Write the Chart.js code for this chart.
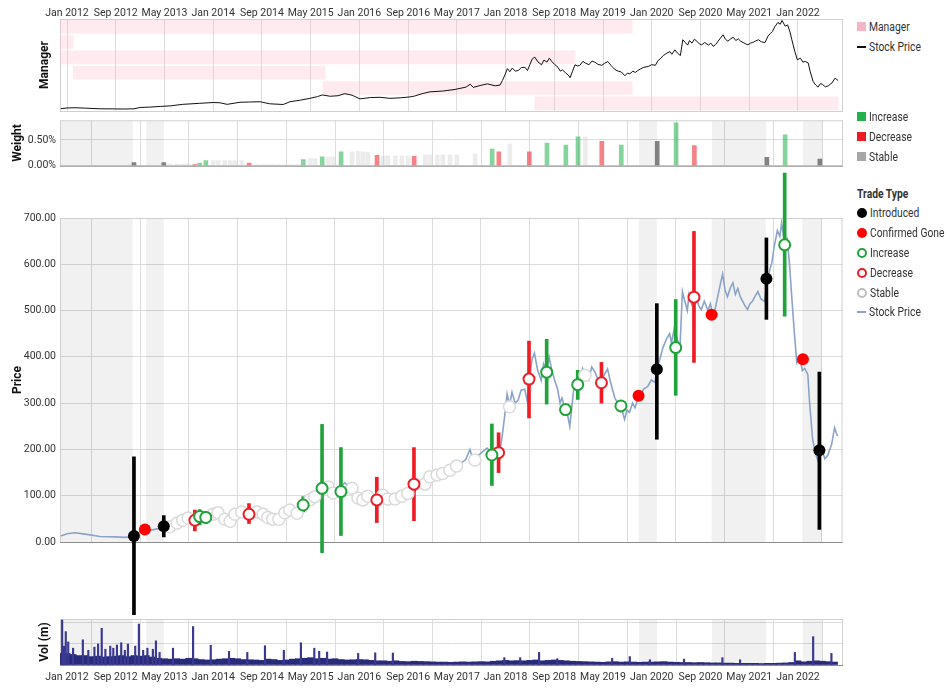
<!DOCTYPE html>
<html>
<head>
<meta charset="utf-8">
<script src="https://cdn.jsdelivr.net/npm/chart.js@4.4.0/dist/chart.umd.min.js"></script>
<style>
  body { margin: 0; background: #fff; }
  #wrap { position: relative; width: 950px; height: 692px; font-family: Roboto, 'Liberation Sans', sans-serif; color: #333; }
  #wrap canvas { position: absolute; left: 0; }
  .lg { position: absolute; left: 857px; font-size: 12px; line-height: 16px; height: 16px; white-space: nowrap; }
  .lg span { display: inline-block; transform: scaleX(0.86); transform-origin: left center; }
  .lg i { display: inline-block; vertical-align: middle; margin-right: 3px; position: relative; top: -1px; }
  .sq { width: 9px; height: 9px; }
  .ln { width: 9px; height: 2px; }
  .dot { width: 10px; height: 10px; border-radius: 50%; box-sizing: border-box; }
  .ttl { font-weight: bold; }
</style>
</head>
<body>
<div id="wrap">
  <canvas id="mgr"></canvas>
  <canvas id="wgt"></canvas>
  <canvas id="main"></canvas>
  <canvas id="vol"></canvas>

  <div class="lg" style="top:19px"><i class="sq" style="background:#f7b6c8"></i><span>Manager</span></div>
  <div class="lg" style="top:39px"><i class="ln" style="background:#111"></i><span>Stock Price</span></div>

  <div class="lg" style="top:109px"><i class="sq" style="background:#22b14c"></i><span>Increase</span></div>
  <div class="lg" style="top:129px"><i class="sq" style="background:#ed1c24"></i><span>Decrease</span></div>
  <div class="lg" style="top:149px"><i class="sq" style="background:#a6a6a6"></i><span>Stable</span></div>

  <div class="lg ttl" style="top:186px"><span>Trade Type</span></div>
  <div class="lg" style="top:205px"><i class="dot" style="background:#000"></i><span>Introduced</span></div>
  <div class="lg" style="top:225px"><i class="dot" style="background:#f00"></i><span>Confirmed Gone</span></div>
  <div class="lg" style="top:245px"><i class="dot" style="border:2.5px solid #1fa33a"></i><span>Increase</span></div>
  <div class="lg" style="top:265px"><i class="dot" style="border:2.5px solid #ee1c25"></i><span>Decrease</span></div>
  <div class="lg" style="top:285px"><i class="dot" style="border:2.5px solid #bdbdbd"></i><span>Stable</span></div>
  <div class="lg" style="top:304px"><i class="ln" style="background:#8aa4c8"></i><span>Stock Price</span></div>
</div>

<script>
// x axis unit: months since Jan 2012
const tickMonths = [0, 8, 16, 24, 32, 40, 48, 56, 64, 72, 80, 88, 96, 104, 112, 120];
const tickLabels = ['Jan 2012', 'Sep 2012', 'May 2013', 'Jan 2014', 'Sep 2014', 'May 2015', 'Jan 2016', 'Sep 2016',
                    'May 2017', 'Jan 2018', 'Sep 2018', 'May 2019', 'Jan 2020', 'Sep 2020', 'May 2021', 'Jan 2022'];

// stock price
const priceMonths = [-1.0, 0, 1.3, 3.0, 5.4, 7.9, 9.5, 11.0, 12.0, 13.6, 15.3, 16.9, 19.0, 21.8, 24.0, 25.1, 26.3, 28.4, 30.0, 31.7,
  33.3, 35.5, 36.6, 38.3, 39.9, 41.1, 41.9, 43.2, 44.5, 45.6, 46.8, 48.1, 49.8, 51.4, 53.0, 54.7, 56.3, 57.1, 58.3, 59.6,
  61.7, 63.7, 65.5, 66.2, 66.7, 67.8, 69.0, 70.3, 71.1, 71.5, 71.9, 72.3, 72.7, 73.1, 73.6, 74.1, 74.6, 75.2, 75.6, 76.0,
  76.4, 76.8, 77.3, 77.9, 78.3, 78.8, 79.2, 79.6, 80.1, 80.6, 81.0, 81.3, 81.9, 82.3, 82.6, 83.0, 83.4, 83.8, 84.2, 84.7,
  85.1, 85.7, 86.2, 86.7, 87.2, 87.8, 88.3, 88.8, 89.3, 89.6, 90.0, 90.5, 91.0, 91.6, 92.0, 92.4, 92.9, 93.3, 93.7, 94.1,
  94.7, 95.4, 96.0, 96.6, 97.0, 97.4, 97.9, 98.5, 99.0, 99.3, 99.8, 100.2, 100.7, 101.1, 101.5, 101.9, 102.2, 102.6, 103.0, 103.4,
  103.8, 104.2, 104.7, 105.3, 105.7, 106.1, 106.5, 106.9, 107.3, 107.7, 108.1, 108.5, 109.0, 109.4, 109.8, 110.2, 110.6, 111.0, 111.4, 111.8,
  112.2, 112.6, 113.0, 113.5, 114.0, 114.6, 115.1, 115.5, 115.8, 116.2, 116.7, 117.1, 117.4, 117.9, 118.3, 118.7, 119.0, 119.5, 119.9, 120.4,
  120.8, 121.2, 121.7, 122.0, 122.5, 122.9, 123.3, 123.7, 124.0, 124.5, 125.0, 125.3, 125.6, 126.1, 126.4, 126.6];
const priceValues = [13, 18, 20, 17, 12, 11, 10, 12, 22, 25, 30, 34, 46, 54, 60, 58, 46, 62, 64, 66,
  50, 45, 66, 78, 92, 105, 118, 108, 112, 128, 116, 88, 98, 100, 92, 96, 103, 110, 128, 142,
  148, 160, 178, 200, 176, 190, 203, 188, 194, 230, 272, 320, 296, 324, 300, 306, 328, 330, 305, 352,
  395, 408, 372, 349, 385, 370, 400, 374, 350, 330, 300, 311, 286, 270, 250, 300, 349, 340, 345, 375,
  362, 350, 378, 368, 352, 345, 362, 374, 345, 330, 311, 300, 294, 265, 285, 280, 300, 290, 305, 316,
  330, 336, 350, 345, 380, 395, 420, 439, 450, 430, 464, 440, 420, 541, 520, 500, 535, 515, 545, 530,
  510, 502, 520, 500, 515, 490, 505, 530, 555, 579, 545, 530, 550, 560, 535, 548, 530, 520, 510, 502,
  515, 520, 530, 541, 525, 520, 570, 590, 604, 640, 673, 660, 689, 645, 655, 600, 541, 450, 387, 400,
  370, 375, 362, 300, 221, 195, 178, 205, 200, 180, 188, 200, 210, 247, 235, 229];

// manager tenure rows
const managerRows  = [0, 1, 2, 3, 4, 5];
const managerStart = [-1.15, -1.15, -1.15, 1.0, 42.0, 76.8];
const managerEnd   = [92.8, 1.0, 83.4, 42.4, 92.8, 126.6];

// shaded periods
const bandStart = [-1.15, 13.0, 93.9, 105.9, 120.8];
const bandEnd   = [10.8, 15.9, 96.9, 114.8, 124.0];

// trades
const introMonths = [11.0, 15.9, 96.9, 114.9, 123.6];
const introPrice  = [13, 34, 373, 569, 198];
const introLow    = [-157, 11, 222, 481, 27];
const introHigh   = [184, 57, 515, 657, 367];
const introWeight = [0.06, 0.06, 0.47, 0.16, 0.13];

const goneMonths = [12.8, 93.9, 105.9, 120.9];
const gonePrice  = [27, 316, 491, 395];

const incMonths = [21.8, 22.8, 38.8, 41.9, 45.0, 69.8, 78.8, 81.9, 83.9, 91.0, 100.0, 117.9];
const incPrice  = [55, 53, 80, 116, 109, 188, 367, 286, 340, 294, 420, 642];
const incLow    = [37, 40, 65, -23, 14, 122, 298, null, 308, null, 317, 488];
const incHigh   = [70, 66, 98, 254, 204, 255, 438, null, 371, null, 524, 797];
const incWeight = [0.05, 0.10, 0.12, 0.17, 0.27, 0.32, 0.44, 0.40, 0.56, 0.40, 0.83, 0.60];

const decMonths = [21.0, 29.9, 50.9, 57.0, 70.9, 75.9, 87.8, 103.0];
const decPrice  = [47, 60, 91, 125, 193, 352, 344, 529];
const decLow    = [24, 40, 42, 46, 150, 268, 300, 388];
const decHigh   = [69, 83, 140, 204, 236, 434, 388, 671];
const decWeight = [0.02, 0.05, 0.20, 0.18, 0.27, 0.27, 0.47, 0.39];

const stableMonths = [16.9, 18.1, 19.0, 19.9, 24.0, 24.8, 25.9, 26.8, 27.6, 28.7, 31.2, 32.2, 33.0, 33.8, 34.8, 35.8, 36.6, 37.8,
  39.9, 40.7, 42.9, 43.7, 46.8, 47.8, 48.6, 49.4, 51.9, 52.7, 53.9, 55.0, 56.0, 58.8, 59.6, 60.8, 61.7, 62.9, 64.0, 67.0, 72.7, 85.1];
const stablePrice = [33, 41, 47, 52, 60, 63, 49, 45, 60, 65, 65, 60, 53, 49, 49, 63, 69, 62,
  91, 98, 119, 106, 116, 95, 91, 99, 101, 93, 93, 99, 105, 125, 141, 145, 148, 155, 164, 177, 292, 360];
const stableWeight = [0.03, 0.03, 0.03, 0.03, 0.10, 0.10, 0.10, 0.10, 0.10, 0.10, 0.02, 0.02, 0.02, 0.02, 0.02, 0.02, 0.02, 0.02,
  0.14, 0.14, 0.17, 0.17, 0.27, 0.28, 0.27, 0.26, 0.19, 0.19, 0.19, 0.19, 0.19, 0.21, 0.21, 0.21, 0.21, 0.21, 0.21, 0.23, 0.42, 0.56];

// volume (m)
const volBaseMonths = [-1, 0, 1, 2, 3, 4, 5, 6, 7, 8, 9, 10, 11, 12, 13, 14, 15, 16, 17, 18, 19, 20, 21, 22, 23,
  24, 25, 26, 27, 28, 29, 30, 31, 32, 33, 34, 35, 36, 37, 38, 39, 40, 41, 42, 43, 44, 45, 46, 47,
  48, 49, 50, 51, 52, 53, 54, 55, 56, 57, 58, 59, 60, 61, 62, 63, 64, 65, 66, 67, 68, 69, 70, 71,
  72, 73, 74, 75, 76, 77, 78, 79, 80, 81, 82, 83, 84, 85, 86, 87, 88, 89, 90, 91, 92, 93, 94, 95,
  96, 97, 98, 99, 100, 101, 102, 103, 104, 105, 106, 107, 108, 109, 110, 111, 112, 113, 114, 115, 116, 117, 118, 119,
  120, 121, 122, 123, 124, 125, 126];
const volBase = [0.55, 0.55, 0.5, 0.45, 0.45, 0.4, 0.42, 0.38, 0.4, 0.42, 0.45, 0.4, 0.45, 0.42, 0.45, 0.38, 0.32, 0.3, 0.28, 0.3, 0.28, 0.32, 0.3, 0.26, 0.24,
  0.25, 0.28, 0.3, 0.32, 0.3, 0.26, 0.25, 0.24, 0.22, 0.28, 0.26, 0.22, 0.24, 0.28, 0.3, 0.32, 0.35, 0.3, 0.32, 0.28, 0.3, 0.26, 0.24, 0.25,
  0.26, 0.25, 0.22, 0.2, 0.2, 0.18, 0.2, 0.17, 0.16, 0.18, 0.17, 0.16, 0.15, 0.14, 0.14, 0.13, 0.14, 0.15, 0.14, 0.15, 0.16, 0.15, 0.18, 0.2,
  0.22, 0.2, 0.21, 0.2, 0.22, 0.24, 0.2, 0.22, 0.24, 0.22, 0.2, 0.18, 0.17, 0.16, 0.15, 0.14, 0.13, 0.15, 0.16, 0.14, 0.15, 0.14, 0.13, 0.14,
  0.14, 0.15, 0.16, 0.14, 0.13, 0.12, 0.12, 0.11, 0.12, 0.11, 0.1, 0.1, 0.09, 0.09, 0.08, 0.08, 0.08, 0.08, 0.07, 0.08, 0.08, 0.09, 0.1, 0.12,
  0.2, 0.15, 0.18, 0.2, 0.18, 0.16, 0.14];
const volSpikeMonths = [-0.8, -0.5, -0.2, 0.2, 1.0, 2.6, 3.5, 4.5, 5.1, 5.7, 6.3, 7.1, 7.6, 8.2, 8.9, 9.5, 10.0, 11.2, 11.8, 12.5,
  13.2, 14.1, 14.6, 15.2, 17.4, 20.7, 23.6, 26.6, 29.6, 32.5, 35.6, 38.4, 40.6, 41.4, 42.7, 47.8, 50.6, 53.5,
  71.8, 74.4, 77.5, 80.5, 89.5, 92.4, 95.7, 101.3, 107.6, 110.5, 119.5, 122.5, 125.5];
const volSpikes = [2.14, 0.9, 1.59, 1.1, 0.8, 1.2, 0.7, 0.85, 1.0, 1.75, 0.75, 0.9, 0.8, 0.95, 1.06, 0.7, 1.0, 0.9, 1.95, 0.7,
  0.8, 0.75, 1.15, 0.6, 0.8, 1.83, 0.94, 0.65, 0.6, 0.92, 0.7, 1.06, 0.8, 0.65, 0.62, 0.55, 0.58, 0.57,
  0.35, 0.35, 0.6, 0.3, 0.32, 0.4, 0.25, 0.28, 0.35, 0.25, 0.6, 1.35, 0.55];

const FONT = "Roboto, 'Liberation Sans', sans-serif";
const X_MIN = -1.15, X_MAX = 127.4;
const GREEN = '#1fa33a', RED = '#ee1c25', GRID = '#dcdcdc';

Chart.defaults.font.family = FONT;
Chart.defaults.font.size = 10.5;
Chart.defaults.color = '#333';
Chart.defaults.animation = false;
Chart.defaults.plugins.legend.display = false;
Chart.defaults.plugins.tooltip.enabled = false;

const pts = (xs, ys) => xs.map((x, i) => ({ x: x, y: ys[i] }));
const spans = (xs, lo, hi) => xs.map((x, i) => ({ x: x, y: [lo[i], hi[i]] })).filter(p => p.y[0] !== null);

// grey shaded periods and panel frame, drawn through the x scale
const bandPlugin = {
  id: 'bands',
  beforeDatasetsDraw(chart, args, opts) {
    const { ctx, chartArea: a, scales: { x } } = chart;
    ctx.save();
    if (opts.shade !== false) {
      ctx.fillStyle = 'rgba(0,0,0,0.055)';
      bandStart.forEach((s, i) => {
        const x0 = Math.max(x.getPixelForValue(s), a.left);
        const x1 = Math.min(x.getPixelForValue(bandEnd[i]), a.right);
        ctx.fillRect(x0, a.top, x1 - x0, a.bottom - a.top);
      });
    }
    ctx.strokeStyle = '#d0d0d0';
    ctx.lineWidth = 1;
    ctx.strokeRect(a.left + 0.5, a.top + 0.5, a.right - a.left - 1, a.bottom - a.top);
    if (opts.bottom) {
      ctx.strokeStyle = opts.bottom;
      ctx.beginPath();
      ctx.moveTo(a.left, a.bottom + 0.5);
      ctx.lineTo(a.right, a.bottom + 0.5);
      ctx.stroke();
    }
    ctx.restore();
  }
};

function timeAxis(position, showLabels, height, pad) {
  return {
    type: 'linear', position: position, min: X_MIN, max: X_MAX, offset: false,
    afterBuildTicks: (axis) => { axis.ticks = tickMonths.map(v => ({ value: v })); },
    afterFit: (axis) => { axis.height = height; },
    ticks: { display: showLabels, autoSkip: false, maxRotation: 0, padding: pad || 0,
             callback: (v) => tickLabels[tickMonths.indexOf(v)] },
    grid: { color: GRID, drawTicks: false },
    border: { display: false }
  };
}

function titleAxis(text, titleX, extra) {
  return Object.assign({
    offset: false,
    afterFit: (axis) => { axis.width = 60; },
    title: { display: true, text: text, font: { size: 12, weight: 'bold' }, color: '#111',
             padding: { top: titleX - 7, bottom: 0 } },
    grid: { color: GRID, drawTicks: false },
    border: { display: false }
  }, extra);
}

function setup(id, top, height) {
  const c = document.getElementById(id);
  c.style.top = top + 'px';
  c.width = 850; c.height = height;
  c.style.width = '850px'; c.style.height = height + 'px';
  return c;
}

// ---- Manager panel ----
new Chart(setup('mgr', 0, 116), {
  type: 'line',
  data: {
    datasets: [
      { type: 'line', data: pts(priceMonths, priceValues), xAxisID: 'x', yAxisID: 'yPrice',
        borderColor: '#111', borderWidth: 1, pointRadius: 0 },
      { type: 'bar', indexAxis: 'y', data: managerRows.map((r, i) => ({ y: r, x: [managerStart[i], managerEnd[i]] })),
        xAxisID: 'x', yAxisID: 'y', backgroundColor: 'rgba(250,170,190,0.25)', barThickness: 13, grouped: false }
    ]
  },
  options: {
    responsive: false,
    layout: { padding: { top: 0, left: 0, right: 7, bottom: 5 } },
    plugins: { bands: { shade: false } },
    scales: {
      x: timeAxis('top', true, 19, -1),
      y: titleAxis('Manager', 45, { type: 'linear', axis: 'y', min: -0.5, max: 5.5, reverse: true,
        ticks: { display: false }, grid: { display: false } }),
      yPrice: { type: 'linear', axis: 'y', display: false, offset: false, min: -5, max: 700 }
    }
  },
  plugins: [bandPlugin]
});

// ---- Weight panel ----
new Chart(setup('wgt', 110, 66), {
  type: 'bar',
  data: {
    datasets: [
      { data: pts(incMonths, incWeight), backgroundColor: 'rgba(34,177,76,0.55)' },
      { data: pts(decMonths, decWeight), backgroundColor: 'rgba(237,28,36,0.55)' },
      { data: pts(introMonths, introWeight), backgroundColor: 'rgba(90,90,90,0.75)' },
      { data: pts(stableMonths, stableWeight), backgroundColor: 'rgba(200,200,200,0.35)' }
    ].map(d => Object.assign(d, { barThickness: 4, grouped: false }))
  },
  options: {
    responsive: false,
    layout: { padding: { top: 8, left: 0, right: 7, bottom: 10 } },
    plugins: { bands: { bottom: '#9a9a9a' } },
    scales: {
      x: timeAxis('bottom', false, 0),
      y: titleAxis('Weight', 18, { min: 0, max: 0.88,
        afterBuildTicks: (axis) => { axis.ticks = [{ value: 0 }, { value: 0.5 }]; },
        ticks: { padding: 4, callback: (v) => v.toFixed(2) + '%' } })
    }
  },
  plugins: [bandPlugin]
});

// ---- Price / trades panel ----
new Chart(setup('main', 168, 452), {
  type: 'line',
  data: {
    datasets: [
      { label: 'Introduced', data: pts(introMonths, introPrice), showLine: false,
        pointRadius: 6, pointBackgroundColor: '#000', pointBorderColor: '#000', pointBorderWidth: 0 },
      { label: 'Confirmed Gone', data: pts(goneMonths, gonePrice), showLine: false,
        pointRadius: 6, pointBackgroundColor: '#f00', pointBorderColor: '#f00', pointBorderWidth: 0 },
      { label: 'Increase', data: pts(incMonths, incPrice), showLine: false,
        pointRadius: 5.5, pointBackgroundColor: '#fff', pointBorderColor: GREEN, pointBorderWidth: 2 },
      { label: 'Decrease', data: pts(decMonths, decPrice), showLine: false,
        pointRadius: 5.5, pointBackgroundColor: '#fff', pointBorderColor: RED, pointBorderWidth: 2 },
      { label: 'Stable', data: pts(stableMonths, stablePrice), showLine: false,
        pointRadius: 6, pointBackgroundColor: '#fff', pointBorderColor: '#dadada', pointBorderWidth: 1.5 },
      { type: 'bar', data: spans(introMonths, introLow, introHigh), backgroundColor: '#000', barThickness: 3, grouped: false, clip: false },
      { type: 'bar', data: spans(incMonths, incLow, incHigh), backgroundColor: GREEN, barThickness: 3, grouped: false, clip: false },
      { type: 'bar', data: spans(decMonths, decLow, decHigh), backgroundColor: RED, barThickness: 3, grouped: false, clip: false },
      { label: 'Stock Price', data: pts(priceMonths, priceValues), borderColor: '#8aa4c8', borderWidth: 1.6, pointRadius: 0 }
    ]
  },
  options: {
    responsive: false,
    layout: { padding: { top: 50, left: 0, right: 7, bottom: 78 } },
    plugins: { bands: { bottom: '#8c8c8c' } },
    scales: {
      x: timeAxis('bottom', false, 0),
      y: titleAxis('Price', 18, { min: 0, max: 700,
        ticks: { stepSize: 100, padding: 4, callback: (v) => v.toFixed(2) } })
    }
  },
  plugins: [bandPlugin]
});

// ---- Volume panel ----
new Chart(setup('vol', 610, 82), {
  type: 'bar',
  data: {
    datasets: [
      { data: pts(volSpikeMonths, volSpikes), backgroundColor: '#3a3990', barThickness: 1.5 },
      { data: pts(volBaseMonths, volBase), backgroundColor: '#2a2a7c', barThickness: 6.2 }
    ].map(d => Object.assign(d, { grouped: false }))
  },
  options: {
    responsive: false,
    layout: { padding: { top: 9, left: 0, right: 7, bottom: 5 } },
    plugins: { bands: { bottom: '#8c8c8c' } },
    scales: {
      x: timeAxis('bottom', true, 22, 6),
      y: titleAxis('Vol (m)', 45, { min: 0, max: 2.19,
        afterBuildTicks: (axis) => { axis.ticks = [{ value: 0 }, { value: 1 }, { value: 2 }]; },
        ticks: { display: false } })
    }
  },
  plugins: [bandPlugin]
});
</script>
</body>
</html>
